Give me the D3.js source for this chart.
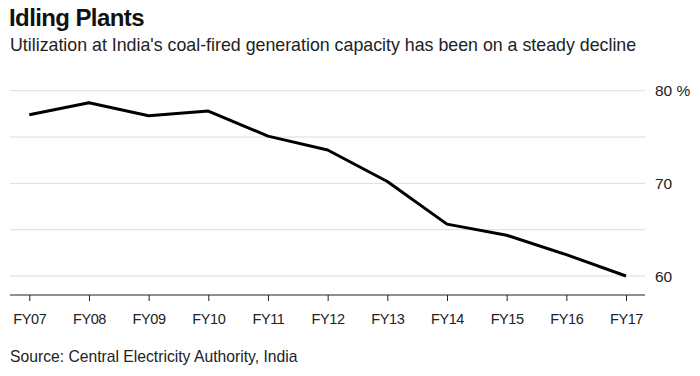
<!DOCTYPE html>
<html>
<head>
<meta charset="utf-8">
<script src="https://cdn.jsdelivr.net/npm/d3@7"></script>
<style>
  body { margin: 0; background: #fff; }
  text { font-family: "Liberation Sans", Arial, sans-serif; fill: #111; }
</style>
</head>
<body>
<svg id="chart" width="700" height="376"></svg>
<script>
// data
var years = ["FY07", "FY08", "FY09", "FY10", "FY11", "FY12", "FY13", "FY14", "FY15", "FY16", "FY17"];
var utilization = [77.4, 78.7, 77.3, 77.8, 75.1, 73.6, 70.2, 65.6, 64.4, 62.3, 60.0];
var gridValues = [60, 65, 70, 75, 80];
var tickLabels = [60, 70, 80];

var svg = d3.select("#chart");

// plot area (avoid "top", it's window.top)
var plotLeft = 10, plotRight = 645, plotTop = 90.7, plotBottom = 276;

var x = d3.scalePoint()
    .domain(years)
    .range([29.3, 626]);

var y = d3.scaleLinear()
    .domain([60, 80])
    .range([plotBottom, plotTop]);

// titles
svg.append("text")
    .attr("x", 9).attr("y", 26)
    .style("font-size", "24px")
    .style("font-weight", "bold")
    .style("letter-spacing", "-0.6px")
    .text("Idling Plants");

svg.append("text")
    .attr("x", 10).attr("y", 51)
    .style("font-size", "17.8px")
    .style("fill", "#222")
    .text("Utilization at India's coal-fired generation capacity has been on a steady decline");

// gridlines
svg.append("g").selectAll("line")
    .data(gridValues)
    .join("line")
    .attr("x1", plotLeft).attr("x2", plotRight)
    .attr("y1", function(d) { return y(d); })
    .attr("y2", function(d) { return y(d); })
    .attr("stroke", "#dcdcdc")
    .attr("stroke-width", 1);

// y labels on the right
svg.append("g").selectAll("text")
    .data(tickLabels)
    .join("text")
    .attr("x", 655)
    .attr("y", function(d) { return y(d) + 5.5; })
    .style("font-size", "15.5px")
    .style("fill", "#222")
    .text(function(d) { return d === 80 ? "80 %" : d; });

// x axis baseline + ticks
svg.append("line")
    .attr("x1", plotLeft).attr("x2", plotRight)
    .attr("y1", 295).attr("y2", 295)
    .attr("stroke", "#222")
    .attr("stroke-width", 1.2);

var xAxis = svg.append("g")
    .attr("transform", "translate(0,295)")
    .call(d3.axisBottom(x).tickSize(6).tickPadding(13));
xAxis.select(".domain").remove();
xAxis.selectAll("line").attr("stroke", "#222");
xAxis.selectAll("text")
    .style("font-size", "14.5px")
    .style("font-family", "\"Liberation Sans\", sans-serif")
    .style("letter-spacing", "-0.4px")
    .style("fill", "#222");

// the line
var line = d3.line()
    .x(function(d, i) { return x(years[i]); })
    .y(function(d) { return y(d); });

svg.append("path")
    .datum(utilization)
    .attr("d", line)
    .attr("fill", "none")
    .attr("stroke", "#000")
    .attr("stroke-width", 3)
    .attr("stroke-linejoin", "round");

// source
svg.append("text")
    .attr("x", 10).attr("y", 362)
    .style("font-size", "15.7px")
    .style("fill", "#222")
    .text("Source: Central Electricity Authority, India");
</script>
</body>
</html>
